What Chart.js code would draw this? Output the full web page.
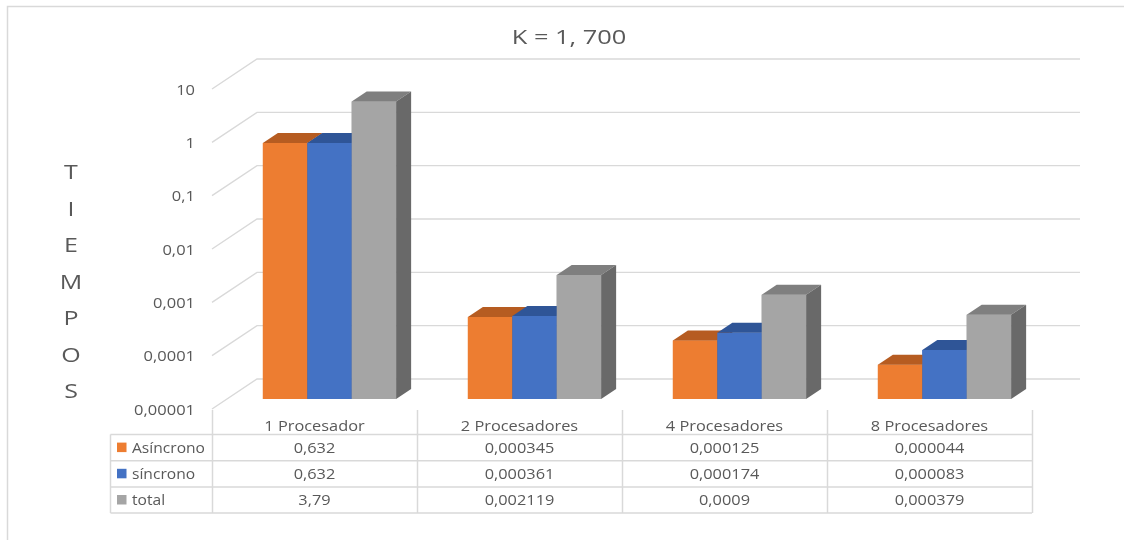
<!DOCTYPE html>
<html lang="es">
<head>
<meta charset="utf-8">
<title>K = 1, 700</title>
<script src="https://cdn.jsdelivr.net/npm/chart.js@4/dist/chart.umd.min.js"></script>
<style>
  html, body { margin: 0; padding: 0; background: #ffffff; }
  #wrap { width: 1124px; height: 540px; position: relative; }
  canvas { display: block; }
</style>
</head>
<body>
<div id="wrap"><canvas id="chart" width="1124" height="540"></canvas></div>
<script>
// Tiempos de ejecución (segundos) por número de procesadores
const categories = ['1 Procesador', '2 Procesadores', '4 Procesadores', '8 Procesadores'];
const seriesNames = ['Asíncrono', 'síncrono', 'total'];
const asincrono = [0.632, 0.000345, 0.000125, 0.000044];
const sincrono  = [0.632, 0.000361, 0.000174, 0.000083];
const total     = [3.79, 0.002119, 0.0009, 0.000379];
const tickValues = [0.00001, 0.0001, 0.001, 0.01, 0.1, 1, 10];
const tickLabels = ['0,00001', '0,0001', '0,001', '0,01', '0,1', '1', '10'];
const chartTitle = 'K = 1, 700';
const axisTitle = 'TIEMPOS';

const seriesValues = [asincrono, sincrono, total];

// face colours: front, top, side
const palette = [
  { front: '#ED7D31', top: '#B65C21', side: '#A3531D' },
  { front: '#4472C4', top: '#2F5597', side: '#2A4D88' },
  { front: '#A5A5A5', top: '#7F7F7F', side: '#696969' }
];
const TEXT = '#595959';
const LINE = '#D9D9D9';
const FONT = '"Open Sans", "Noto Sans", sans-serif';

// depth of the 3D box (wall depth) and of each bar
const WALL_DX = 45, WALL_DY = -30;
const BAR_DX = 15, BAR_DY = -10;
// the bars stand in the middle third of the depth
const FRONT_DX = -15, FRONT_DY = 10;

function drawText(ctx, s, x, y, size, align, sx) {
  ctx.save();
  ctx.font = size + 'px ' + FONT;
  ctx.fillStyle = TEXT;
  ctx.textBaseline = 'alphabetic';
  ctx.textAlign = 'left';
  const w = ctx.measureText(s).width * sx;
  const x0 = align === 'center' ? x - w / 2 : (align === 'right' ? x - w : x);
  ctx.translate(x0, y);
  ctx.scale(sx, 1);
  ctx.fillText(s, 0, 0);
  ctx.restore();
}

function fmt(v) {
  return String(v).replace('.', ',');
}

// frame, back wall grid, axis labels, title and data table
const sceneryPlugin = {
  id: 'scenery',
  beforeDatasetsDraw(chart) {
    const ctx = chart.ctx;
    const area = chart.chartArea;
    const y = chart.scales.y;

    ctx.save();
    // outer frame (top and left edges)
    ctx.strokeStyle = LINE;
    ctx.lineWidth = 1.5;
    ctx.beginPath();
    ctx.moveTo(7.5, 540);
    ctx.lineTo(7.5, 6.5);
    ctx.lineTo(1124, 6.5);
    ctx.stroke();

    // back wall grid with the receding side edges
    ctx.lineWidth = 1.4;
    tickValues.forEach(v => {
      const py = y.getPixelForValue(v);
      const fx = area.left + FRONT_DX, fy = py + FRONT_DY;
      ctx.beginPath();
      ctx.moveTo(fx, fy);
      ctx.lineTo(fx + WALL_DX, fy + WALL_DY);
      ctx.lineTo(area.right + FRONT_DX + WALL_DX + 3, fy + WALL_DY);
      ctx.stroke();
    });
    ctx.restore();

    // tick labels on the front edge
    tickValues.forEach((v, i) => {
      const py = y.getPixelForValue(v) + FRONT_DY;
      drawText(ctx, tickLabels[i], 195, py + 5.6, 15, 'right', 1.1);
    });

    // title
    drawText(ctx, chartTitle, 569, 44.3, 20, 'center', 1.27);

    // vertical axis title, one letter per line
    axisTitle.split('').forEach((ch, i) => {
      drawText(ctx, ch, 71, 179 + i * 36.5, 20, 'center', 1.25);
    });
  },
  afterDatasetsDraw(chart) {
    const ctx = chart.ctx;
    const x = chart.scales.x;
    const metas = seriesValues.map((_, d) => chart.getDatasetMeta(d));

    // bars: redraw front faces in depth order and add top / side faces
    categories.forEach((_, i) => {
      metas.forEach((meta, d) => {
        const el = meta.data[i];
        if (!el) return;
        const p = el.getProps(['x', 'y', 'base', 'width'], true);
        const l = p.x - p.width / 2, r = p.x + p.width / 2, t = p.y, b = p.base;
        el.draw(ctx);
        ctx.save();
        ctx.fillStyle = palette[d].top;
        ctx.beginPath();
        ctx.moveTo(l, t);
        ctx.lineTo(r, t);
        ctx.lineTo(r + BAR_DX, t + BAR_DY);
        ctx.lineTo(l + BAR_DX, t + BAR_DY);
        ctx.closePath();
        ctx.fill();
        ctx.fillStyle = palette[d].side;
        ctx.beginPath();
        ctx.moveTo(r, t);
        ctx.lineTo(r + BAR_DX, t + BAR_DY);
        ctx.lineTo(r + BAR_DX, b + BAR_DY);
        ctx.lineTo(r, b);
        ctx.closePath();
        ctx.fill();
        ctx.restore();
      });
    });

    // data table under the plot
    const colW = x.getPixelForValue(1) - x.getPixelForValue(0);
    const colCenters = categories.map((_, i) => x.getPixelForValue(i) + FRONT_DX);
    const tLeft = colCenters[0] - colW / 2;
    const tRight = colCenters[colCenters.length - 1] + colW / 2;
    const legendLeft = 110.5;
    const topY = chart.chartArea.bottom + FRONT_DY + 1;
    const headBottom = 434.5;
    const rowH = 26.2;
    const rowLines = [0, 1, 2, 3].map(k => headBottom + k * rowH);

    ctx.save();
    ctx.strokeStyle = LINE;
    ctx.lineWidth = 1.5;
    ctx.beginPath();
    rowLines.forEach(ry => {
      ctx.moveTo(legendLeft, ry);
      ctx.lineTo(tRight, ry);
    });
    for (let k = 0; k <= categories.length; k++) {
      const vx = Math.round(tLeft + k * colW) + 0.5;
      ctx.moveTo(vx, topY);
      ctx.lineTo(vx, rowLines[3]);
    }
    ctx.moveTo(legendLeft, rowLines[0]);
    ctx.lineTo(legendLeft, rowLines[3]);
    ctx.stroke();
    ctx.restore();

    categories.forEach((c, i) => {
      drawText(ctx, c, colCenters[i], 430.7, 15, 'center', 1.09);
    });
    seriesNames.forEach((name, d) => {
      const cy = rowLines[d] + rowH / 2;
      ctx.fillStyle = palette[d].front;
      ctx.fillRect(117, cy - 5, 9.5, 9.5);
      drawText(ctx, name, 132, cy + 5, 15, 'left', 1.04);
      seriesValues[d].forEach((v, i) => {
        drawText(ctx, fmt(v), colCenters[i], cy + 5, 15, 'center', 1.09);
      });
    });
  }
};

new Chart(document.getElementById('chart'), {
  type: 'bar',
  data: {
    labels: categories,
    datasets: seriesNames.map((name, d) => ({
      label: name,
      data: seriesValues[d],
      backgroundColor: palette[d].front,
      borderWidth: 0,
      categoryPercentage: 0.65,
      barPercentage: 1.0
    }))
  },
  options: {
    responsive: false,
    animation: false,
    devicePixelRatio: 1,
    layout: { padding: { left: 227, right: 77, top: 79, bottom: 141 } },
    plugins: {
      legend: { display: false },
      title: { display: false },
      tooltip: { enabled: false }
    },
    scales: {
      x: { type: 'category', display: false, grid: { display: false } },
      y: { type: 'logarithmic', min: 0.00001, max: 10, display: false, grid: { display: false } }
    }
  },
  plugins: [sceneryPlugin]
});
</script>
</body>
</html>
